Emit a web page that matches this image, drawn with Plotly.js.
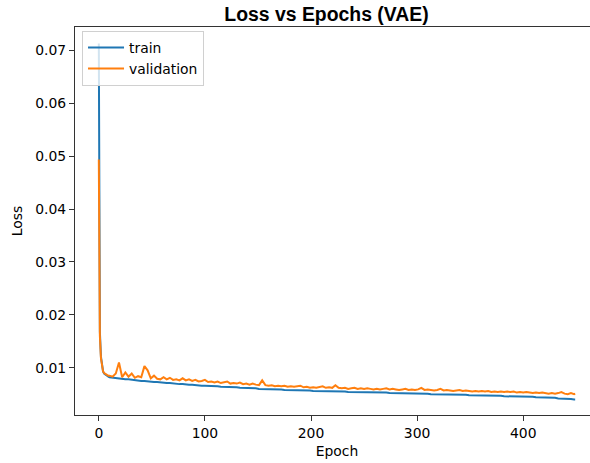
<!DOCTYPE html>
<html>
<head>
<meta charset="utf-8">
<script src="https://cdn.plot.ly/plotly-3.0.1.min.js"></script>
<style>
html,body{margin:0;padding:0;overflow:hidden;background:#fff;}
#chart{width:610px;height:463px;}
</style>
</head>
<body>
<div id="chart"></div>
<script>
// ---- data ----
const epochs = [
  0,1,2,3,4,5,6,7,8,9,
  10,13,16,19,22,25,28,31,34,37,
  40,43,46,49,52,55,58,61,64,67,
  70,73,76,79,82,85,88,91,94,97,
  100,103,106,109,112,115,118,121,124,127,
  130,133,136,139,142,145,148,151,154,157,
  160,163,166,169,172,175,178,181,184,187,
  190,193,196,199,202,205,208,211,214,217,
  220,223,226,229,232,235,238,241,244,247,
  250,253,256,259,262,265,268,271,274,277,
  280,283,286,289,292,295,298,301,304,307,
  310,313,316,319,322,325,328,331,334,337,
  340,343,346,349,352,355,358,361,364,367,
  370,373,376,379,382,385,388,391,394,397,
  400,403,406,409,412,415,418,421,424,427,
  430,433,436,439,442,445,448,449
];
const trainLoss = [
  0.0713,0.0168,0.0121,0.0101,0.0093,0.0089,0.0087,0.0085,0.0084,0.0083,
  0.0082,0.0081,0.0080,0.0079,0.0079,0.0078,0.0078,0.0077,0.0077,0.0076,
  0.0075,0.0075,0.0074,0.0074,0.0073,0.0073,0.0072,0.0072,0.0071,0.0071,
  0.0070,0.0070,0.0069,0.0069,0.0068,0.0068,0.0068,0.0067,0.0067,0.0066,
  0.0066,0.0066,0.0065,0.0065,0.0065,0.0064,0.0064,0.0064,0.0063,0.0063,
  0.0063,0.0062,0.0062,0.0062,0.0061,0.0061,0.0061,0.0060,0.0060,0.0060,
  0.0060,0.0059,0.0059,0.0059,0.0059,0.0058,0.0058,0.0058,0.0058,0.0057,
  0.0057,0.0057,0.0057,0.0057,0.0056,0.0056,0.0056,0.0056,0.0056,0.0055,
  0.0055,0.0055,0.0055,0.0055,0.0055,0.0054,0.0054,0.0054,0.0054,0.0054,
  0.0054,0.0053,0.0053,0.0053,0.0053,0.0053,0.0053,0.0053,0.0052,0.0052,
  0.0052,0.0052,0.0052,0.0052,0.0052,0.0051,0.0051,0.0051,0.0051,0.0051,
  0.0051,0.0050,0.0050,0.0050,0.0050,0.0050,0.0050,0.0049,0.0049,0.0049,
  0.0049,0.0049,0.0049,0.0048,0.0048,0.0048,0.0048,0.0048,0.0047,0.0047,
  0.0047,0.0047,0.0047,0.0047,0.0046,0.0046,0.0046,0.0046,0.0046,0.0046,
  0.0045,0.0045,0.0045,0.0045,0.0044,0.0044,0.0044,0.0044,0.0043,0.0043,
  0.0043,0.0042,0.0042,0.0041,0.0041,0.0041,0.0040,0.0040
];
const validationLoss = [
  0.0494,0.0160,0.0118,0.0100,0.0093,0.0090,0.0088,0.0087,0.0086,0.0085,
  0.0085,0.0083,0.0089,0.0110,0.0082,0.0091,0.0083,0.0089,0.0081,0.0084,
  0.0082,0.0103,0.0095,0.0080,0.0085,0.0079,0.0078,0.0082,0.0078,0.0081,
  0.0077,0.0078,0.0076,0.0080,0.0076,0.0078,0.0075,0.0077,0.0074,0.0075,
  0.0077,0.0073,0.0074,0.0072,0.0074,0.0071,0.0072,0.0074,0.0070,0.0071,
  0.0070,0.0072,0.0069,0.0070,0.0068,0.0070,0.0068,0.0067,0.0076,0.0067,
  0.0066,0.0067,0.0065,0.0066,0.0065,0.0066,0.0064,0.0065,0.0064,0.0065,
  0.0066,0.0063,0.0064,0.0062,0.0063,0.0062,0.0063,0.0065,0.0062,0.0063,
  0.0062,0.0067,0.0062,0.0061,0.0062,0.0060,0.0061,0.0062,0.0060,0.0061,
  0.0060,0.0061,0.0060,0.0059,0.0060,0.0059,0.0060,0.0061,0.0059,0.0060,
  0.0059,0.0058,0.0059,0.0060,0.0058,0.0059,0.0058,0.0059,0.0062,0.0058,
  0.0059,0.0058,0.0057,0.0058,0.0060,0.0057,0.0058,0.0057,0.0056,0.0057,
  0.0058,0.0056,0.0057,0.0056,0.0055,0.0056,0.0055,0.0056,0.0055,0.0056,
  0.0054,0.0055,0.0054,0.0055,0.0054,0.0055,0.0054,0.0055,0.0053,0.0054,
  0.0053,0.0054,0.0053,0.0052,0.0053,0.0052,0.0053,0.0052,0.0051,0.0052,
  0.0051,0.0052,0.0054,0.0051,0.0050,0.0052,0.0050,0.0051
];
const seriesNames = ['train', 'validation'];
const titleText = 'Loss vs Epochs (VAE)';
const xTitle = 'Epoch';
const yTitle = 'Loss';
const xTickVals = [0, 100, 200, 300, 400];
const yTickVals = [0.01, 0.02, 0.03, 0.04, 0.05, 0.06, 0.07];

// ---- chart ----
const tickFont = {family: 'DejaVu Sans', size: 13.9, color: '#000'};
const traces = [
  {x: epochs, y: trainLoss, name: seriesNames[0], type: 'scatter', mode: 'lines',
   line: {color: '#1f77b4', width: 2}},
  {x: epochs, y: validationLoss, name: seriesNames[1], type: 'scatter', mode: 'lines',
   line: {color: '#ff7f0e', width: 2}}
];
const axisCommon = {
  showline: true, mirror: true, linecolor: '#333', linewidth: 1,
  showgrid: false, zeroline: false,
  ticks: 'outside', ticklen: 5, tickwidth: 1, tickcolor: '#333',
  tickfont: tickFont
};
const layout = {
  width: 610, height: 463,
  margin: {l: 75, r: 11, t: 27, b: 48, pad: 0},
  paper_bgcolor: '#fff', plot_bgcolor: '#fff',
  showlegend: true,
  title: {text: '<b>' + titleText + '</b>',
          font: {family: 'Liberation Sans', size: 19.4, color: '#000'},
          x: 326.5/610, xref: 'container', xanchor: 'center',
          y: 1 - 14/463, yref: 'container', yanchor: 'middle'},
  xaxis: Object.assign({}, axisCommon, {
    range: [-22.45, 471.45], tickvals: xTickVals,
    ticktext: xTickVals.map(String),
    title: {text: xTitle, font: tickFont, standoff: 6}
  }),
  yaxis: Object.assign({}, axisCommon, {
    range: [0.00106, 0.07444], tickvals: yTickVals,
    ticktext: yTickVals.map(v => v.toFixed(2)),
    title: {text: yTitle, font: tickFont, standoff: 9}
  }),
  legend: {
    x: 0.0134, y: 0.9897, xanchor: 'left', yanchor: 'top',
    itemwidth: 36,
    bgcolor: 'rgba(255,255,255,0.8)', bordercolor: '#d0d0d0', borderwidth: 1,
    font: {family: 'DejaVu Sans', size: 13.9, color: '#000'}
  }
};
Plotly.newPlot('chart', traces, layout, {staticPlot: true, displayModeBar: false});
</script>
</body>
</html>
